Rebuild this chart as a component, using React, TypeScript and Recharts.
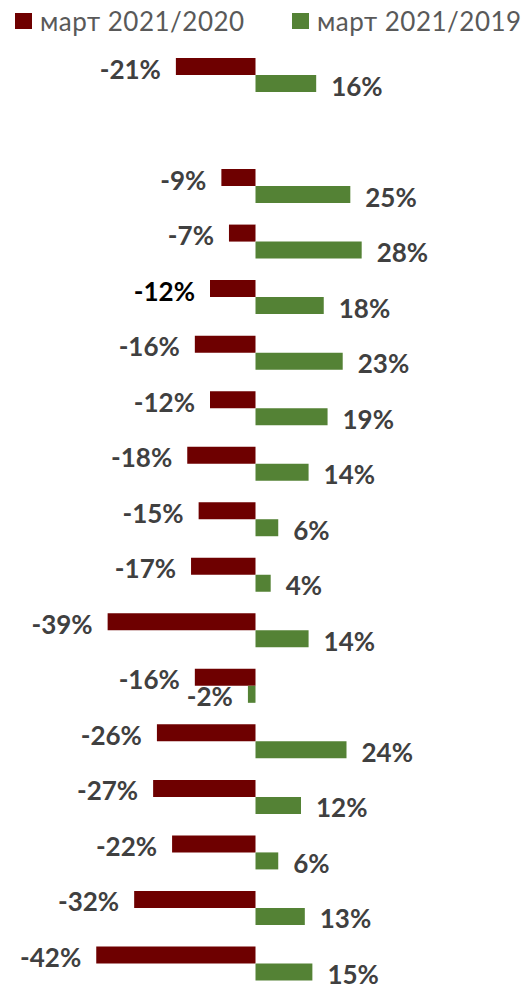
import React from "react";
import { Bar, BarChart, LabelList, XAxis, YAxis } from "recharts";

// rows top to bottom; the second slot is an empty spacer row
const categories = [
  "r1", "gap", "r2", "r3", "r4", "r5", "r6", "r7", "r8",
  "r9", "r10", "r11", "r12", "r13", "r14", "r15", "r16",
];
const vs2020 = [-21, null, -9, -7, -12, -16, -12, -18, -15, -17, -39, -16, -26, -27, -22, -32, -42];
const vs2019 = [16, null, 25, 28, 18, 23, 19, 14, 6, 4, 14, -2, 24, 12, 6, 13, 15];
const seriesNames = ["март 2021/2020", "март 2021/2019"];
const xDomain = [-60, 60];

const RED = "#6e0000";
const GREEN = "#548235";
const LABEL = "#404040";
const blackLabelRow = "r4"; // this label is printed in black in the source

const data = categories.map((name, i) => ({ name, a: vs2020[i], b: vs2019[i] }));
// LabelList indexes skip the empty row
const blackIdx = data.filter((d) => d.a != null).findIndex((d) => d.name === blackLabelRow);

function makeLabel(dy: number, highlight: boolean) {
  return (props: any) => {
    const { x, y, width, height, value, index } = props;
    if (value == null) return null;
    const left = Math.min(x, x + width);
    const right = Math.max(x, x + width);
    const neg = value < 0;
    return (
      <text
        x={neg ? left - 15 : right + 15}
        y={y + height / 2 + dy}
        textAnchor={neg ? "end" : "start"}
        dominantBaseline="central"
        fontFamily="Lato, sans-serif"
        fontWeight={700}
        fontSize={26}
        fill={highlight && index === blackIdx ? "#000" : LABEL}
      >
        {value}%
      </text>
    );
  };
}

function LegendItem({ color, label, left }: { color: string; label: string; left: number }) {
  return (
    <div style={{ position: "absolute", left, top: 0, display: "flex", alignItems: "center", height: 26 }}>
      <span style={{ width: 17, height: 16, background: color, display: "inline-block", marginRight: 8 }} />
      <span
        style={{
          fontFamily: "Lato, sans-serif",
          fontSize: 26,
          letterSpacing: 0.5,
          color: "#595959",
          lineHeight: "26px",
          whiteSpace: "nowrap",
        }}
      >
        {label}
      </span>
    </div>
  );
}

export default function App() {
  return (
    <div style={{ position: "relative", width: 515, height: 977 }}>
      <div style={{ position: "absolute", left: 0, top: 0, width: 515, height: 977, overflow: "hidden" }}>
        <BarChart
          width={515}
          height={995}
          data={data}
          layout="vertical"
          margin={{ top: 39, right: 40, bottom: 12, left: 20 }}
          barGap={0}
        >
          <XAxis type="number" domain={xDomain} hide />
          <YAxis type="category" dataKey="name" hide />
          <Bar dataKey="a" name={seriesNames[0]} fill={RED} barSize={17} isAnimationActive={false}>
            <LabelList dataKey="a" content={makeLabel(2, true)} />
          </Bar>
          <Bar dataKey="b" name={seriesNames[1]} fill={GREEN} barSize={17} isAnimationActive={false}>
            <LabelList dataKey="b" content={makeLabel(2, false)} />
          </Bar>
        </BarChart>
      </div>
      <LegendItem color={RED} label={seriesNames[0]} left={7} />
      <LegendItem color={GREEN} label={seriesNames[1]} left={284} />
    </div>
  );
}
